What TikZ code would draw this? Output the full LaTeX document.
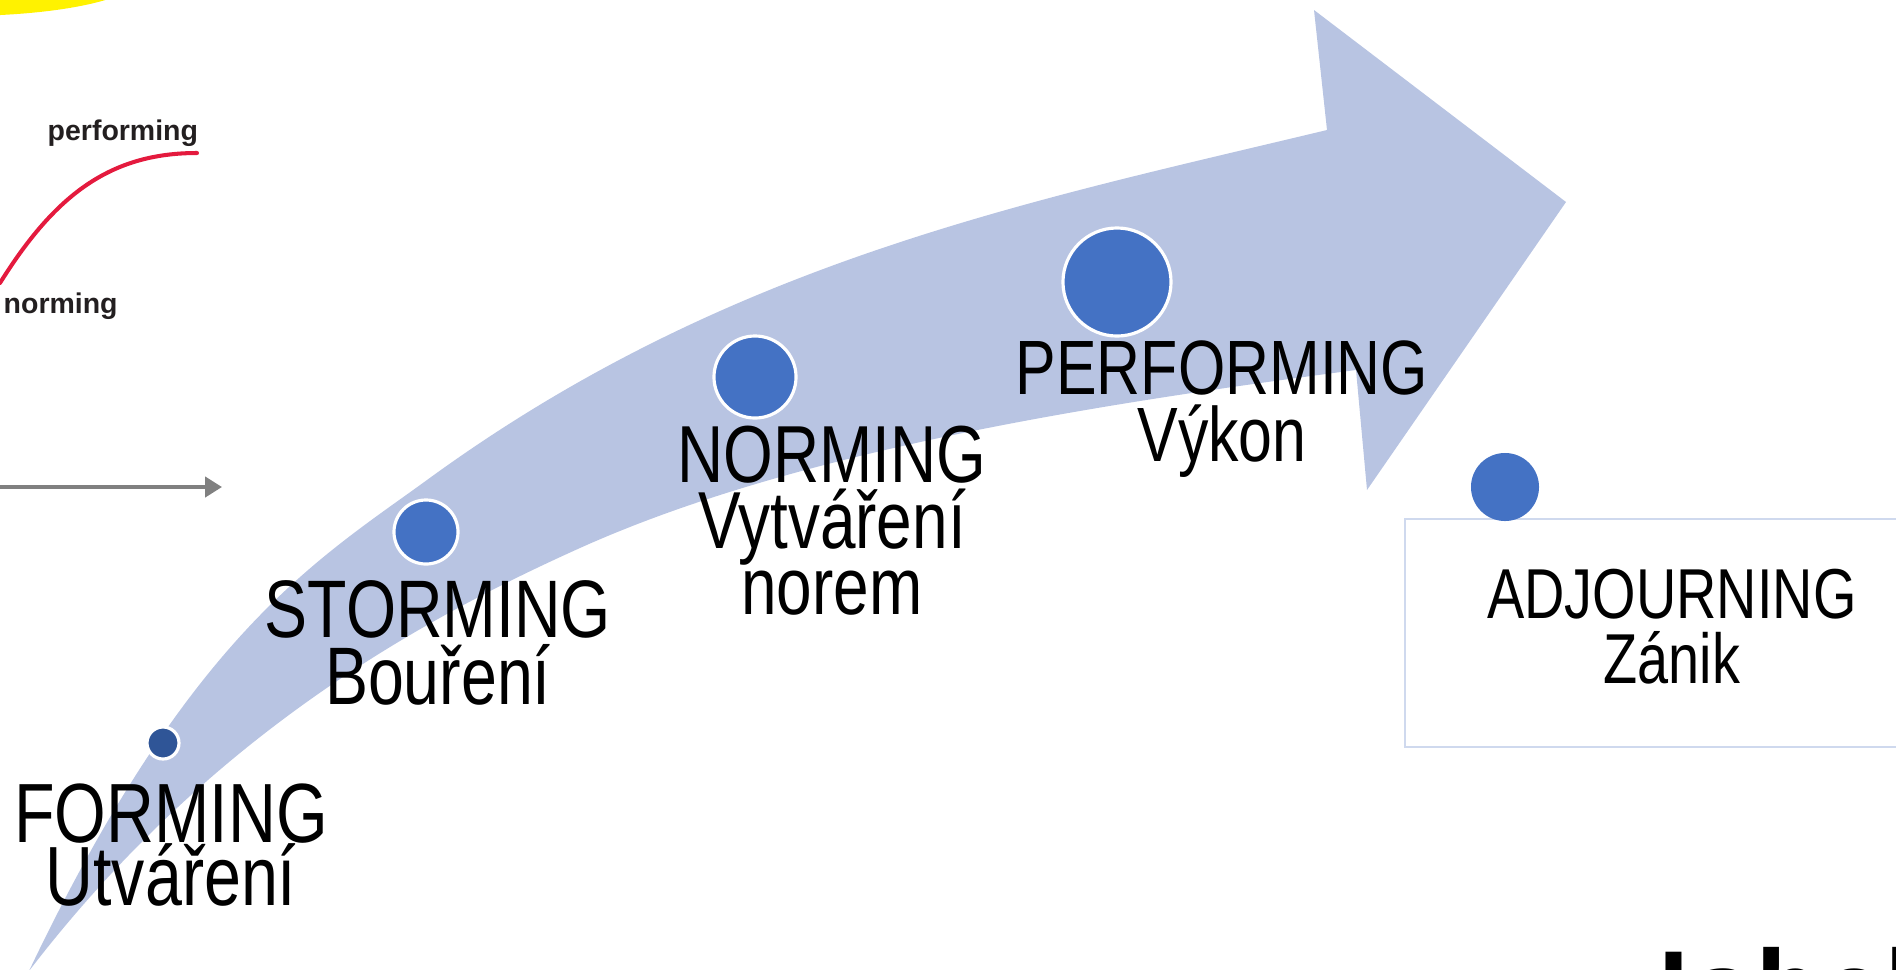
\documentclass[tikz,border=0pt]{standalone}
\usepackage{fontspec}
\setmainfont{Liberation Sans}[FakeStretch=0.79]
\newfontfamily\graphfont{Liberation Sans}
\newfontfamily\titlefont{Open Sans}
\usetikzlibrary{arrows.meta}

\definecolor{band}{RGB}{184,196,226}
\definecolor{dotblue}{RGB}{68,114,196}
\definecolor{dotdark}{RGB}{47,85,151}
\definecolor{boxline}{RGB}{207,217,238}
\definecolor{graphred}{RGB}{228,26,62}
\definecolor{axisgray}{RGB}{128,128,128}
\definecolor{gtext}{RGB}{35,31,32}

\newcommand{\stagefont}[2]{\fontsize{#1}{#2}\selectfont\lineskiplimit=-\maxdimen}

\tikzset{
	stage/.style={inner sep=0pt, align=center, anchor=north, text=black},
	dot/.style={circle, inner sep=0pt, fill=dotblue, draw=white, line width=0.9pt},
	glabel/.style={inner sep=0pt, anchor=base west, text=gtext,
		font=\graphfont\bfseries\fontsize{8.1pt}{9pt}\selectfont}
}

\begin{document}
\begin{tikzpicture}[x=0.01cm, y=-0.01cm]
\useasboundingbox (0,0) rectangle (1896,969);
\clip (0,0) rectangle (1896,969);

% corner of the small chart
\fill[yellow] (-40,-23) ellipse [x radius=180, y radius=39];
\coordinate (rstart) at (0,283);
\coordinate (rend) at (197,153);
\draw[graphred, line width=1.15pt, line cap=round] (rstart) .. controls (55,195) and (110,153) .. (rend);
\coordinate (axstart) at (-10,487);
\coordinate (axend) at (222,487);
\draw[axisgray, line width=1.1pt, -{Triangle[length=4.8pt,width=5.7pt]}] (axstart) -- (axend);
\path (47,140) node[glabel] (gperf) {performing};
\path (3,313) node[glabel] (gnorm) {norming};

% big arrow
\fill[band] (29,971) .. controls (190,633) and (317,560) .. (427,480)
	.. controls (727,261) and (1027,202) .. (1327,130)
	-- (1314,10) -- (1566,202) -- (1367,490) -- (1356,370)
	.. controls (1106,403) and (800,449) .. (580,548)
	.. controls (420,620) and (210,735) .. (29,971) -- cycle;

\draw[boxline, line width=0.8pt] (1405,519) rectangle (1960,747);

\path (163,743) node[dot, fill=dotdark, minimum size=0.32cm] (dforming) {};
\path (426,532) node[dot, minimum size=0.64cm] (dstorming) {};
\path (755,377) node[dot, minimum size=0.82cm] (dnorming) {};
\path (1117,282) node[dot, minimum size=1.08cm] (dperforming) {};
\path (1505,487) node[dot, draw=none, minimum size=0.68cm] (dadjourning) {};

\path (171,783) node[stage, font=\stagefont{23.9pt}{17.9pt}] (forming) {FORMING\\Utváření};
\path (438,580) node[stage, font=\stagefont{23.2pt}{19.1pt}] (storming) {STORMING\\Bouření};
\path (832,425) node[stage, font=\stagefont{23.0pt}{18.8pt}] (norming) {NORMING\\Vytváření\\norem};
\path (1222,340) node[stage, font=\stagefont{21.9pt}{19.1pt}] (performing) {PERFORMING\\Výkon};
\path (1672,568) node[stage, font=\stagefont{20.1pt}{18.5pt}] (adjourning) {ADJOURNING\\Zánik};

\path (1656,1027) node[anchor=base west, inner sep=0pt, font=\titlefont\bfseries\fontsize{30pt}{32pt}\selectfont] (jabel) {Jabel};

\end{tikzpicture}
\end{document}
